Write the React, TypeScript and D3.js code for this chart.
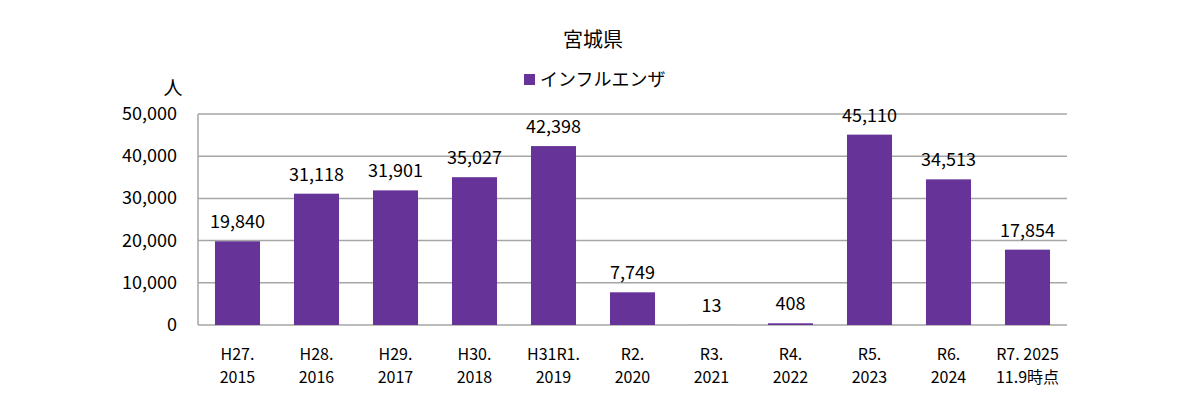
import * as d3 from "d3";
import React, { useEffect, useRef } from "react";

const categories = [
  "H27.|2015",
  "H28.|2016",
  "H29.|2017",
  "H30.|2018",
  "H31R1.|2019",
  "R2.|2020",
  "R3.|2021",
  "R4.|2022",
  "R5.|2023",
  "R6.|2024",
  "R7. 2025|11.9時点",
];
const values = [19840, 31118, 31901, 35027, 42398, 7749, 13, 408, 45110, 34513, 17854];
const yTicks = [0, 10000, 20000, 30000, 40000, 50000];

const W = 1200;
const H = 408;
const FONT = "'Noto Sans CJK JP', 'Noto Sans', sans-serif";

export default function App() {
  const ref = useRef<SVGSVGElement>(null);

  useEffect(() => {
    document.body.style.margin = "0";
    const svg = d3.select(ref.current);
    svg.selectAll("*").remove();

    const left = 198;
    const right = 1067;
    const top = 114;
    const bottom = 325;

    const x = d3.scaleBand().domain(categories).range([left, right]).paddingInner(0.43).paddingOuter(0.215);
    const y = d3.scaleLinear().domain([0, 50000]).range([bottom, top]);

    // gridlines
    svg
      .append("g")
      .selectAll("line")
      .data(yTicks)
      .join("line")
      .attr("x1", left)
      .attr("x2", right)
      .attr("y1", (d) => y(d))
      .attr("y2", (d) => y(d))
      .attr("stroke", "#a6a6a6")
      .attr("stroke-width", 1.5);

    svg
      .append("line")
      .attr("x1", left)
      .attr("x2", left)
      .attr("y1", top)
      .attr("y2", bottom)
      .attr("stroke", "#a6a6a6")
      .attr("stroke-width", 1.5);

    // y tick labels
    svg
      .append("g")
      .selectAll("text")
      .data(yTicks)
      .join("text")
      .attr("x", 177)
      .attr("y", (d) => y(d) + 6)
      .attr("text-anchor", "end")
      .attr("font-size", 18)
      .attr("font-family", FONT)
      .attr("fill", "#000")
      .text((d) => d3.format(",")(d));

    // bars
    svg
      .append("g")
      .selectAll("rect")
      .data(values)
      .join("rect")
      .attr("x", (_, i) => x(categories[i])!)
      .attr("y", (d) => y(d))
      .attr("width", x.bandwidth())
      .attr("height", (d) => bottom - y(d))
      .attr("fill", "#663399");

    // value labels
    svg
      .append("g")
      .selectAll("text")
      .data(values)
      .join("text")
      .attr("x", (_, i) => x(categories[i])! + x.bandwidth() / 2)
      .attr("y", (d) => y(d) - 13)
      .attr("text-anchor", "middle")
      .attr("font-size", 18)
      .attr("font-family", FONT)
      .attr("fill", "#000")
      .text((d) => d3.format(",")(d));

    // x labels
    const xl = svg
      .append("g")
      .selectAll("text")
      .data(categories)
      .join("text")
      .attr("text-anchor", "middle")
      .attr("font-size", 16)
      .attr("font-family", FONT)
      .attr("fill", "#000");
    xl.each(function (d) {
      const cx = x(d)! + x.bandwidth() / 2;
      const parts = d.split("|");
      d3.select(this)
        .selectAll("tspan")
        .data(parts)
        .join("tspan")
        .attr("x", cx)
        .attr("y", (_, j) => 360 + j * 23)
        .text((p) => p);
    });

    // title, legend, unit
    svg
      .append("text")
      .attr("x", 593)
      .attr("y", 47)
      .attr("text-anchor", "middle")
      .attr("font-size", 20)
      .attr("font-family", FONT)
      .text("宮城県");

    svg.append("rect").attr("x", 524).attr("y", 74).attr("width", 11).attr("height", 11).attr("fill", "#663399");
    svg
      .append("text")
      .attr("x", 540)
      .attr("y", 86)
      .attr("font-size", 18)
      .attr("font-family", FONT)
      .text("インフルエンザ");

    svg
      .append("text")
      .attr("x", 173)
      .attr("y", 95)
      .attr("text-anchor", "middle")
      .attr("font-size", 19)
      .attr("font-family", FONT)
      .text("人");
  }, []);

  return <svg ref={ref} width={W} height={H} style={{ display: "block", background: "#fff" }} />;
}
